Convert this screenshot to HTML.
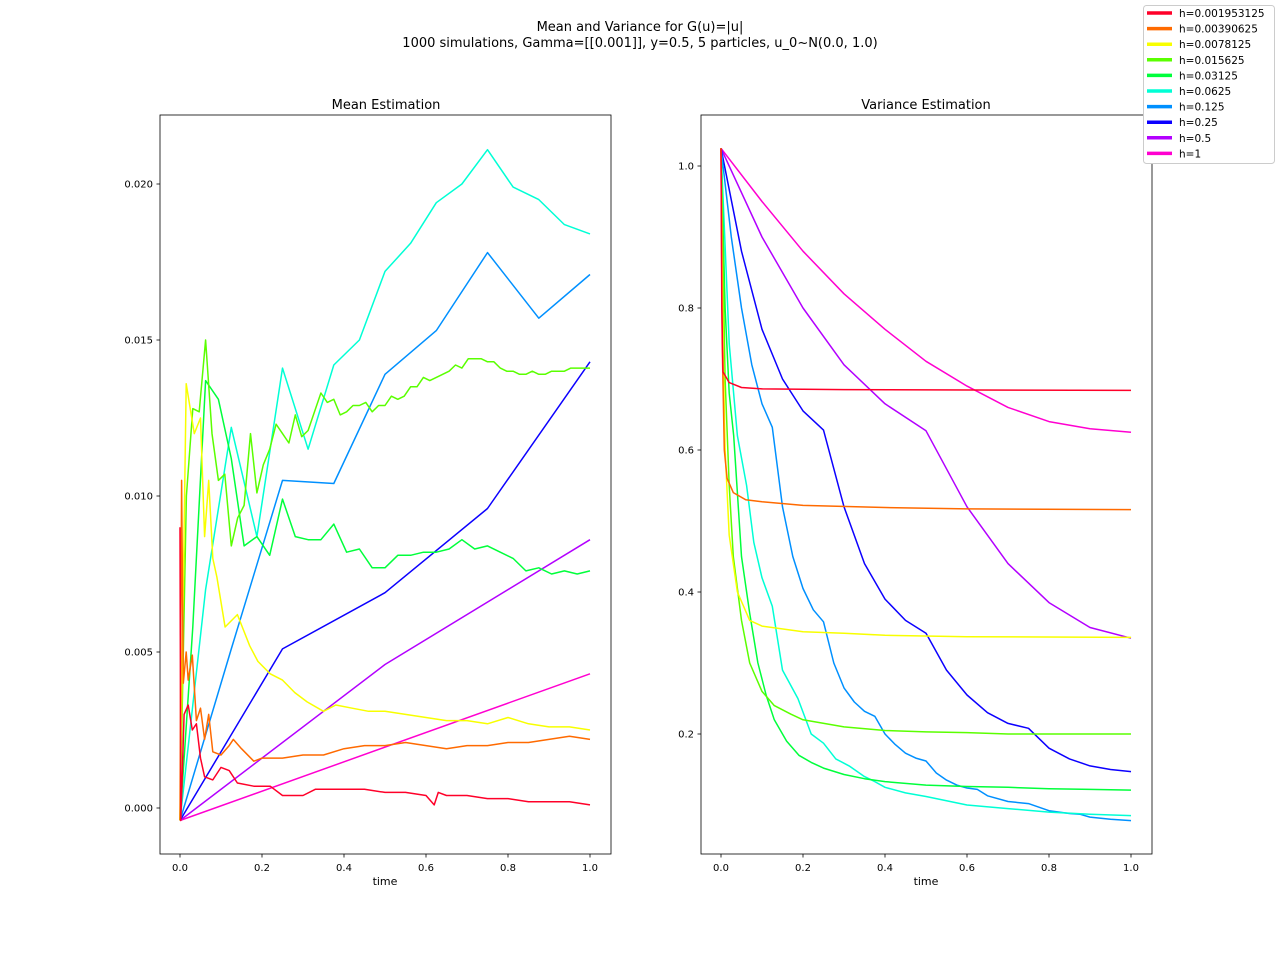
<!DOCTYPE html>
<html><head><meta charset="utf-8"><style>
body{margin:0;background:#fff;}
svg text{font-family:"DejaVu Sans","Liberation Sans",sans-serif;fill:#000;}
</style></head><body>
<svg id="fig" width="1280" height="960" xmlns="http://www.w3.org/2000/svg">
<text x="640" y="31" font-size="13" text-anchor="middle">Mean and Variance for G(u)=|u|</text>
<text x="640" y="47" font-size="13" text-anchor="middle">1000 simulations, Gamma=[[0.001]], y=0.5, 5 particles, u_0~N(0.0, 1.0)</text>
<text x="386" y="109" font-size="13" text-anchor="middle">Mean Estimation</text>
<text x="926" y="109" font-size="13" text-anchor="middle">Variance Estimation</text>
<text x="385" y="885" font-size="11" text-anchor="middle">time</text>
<text x="926" y="885" font-size="11" text-anchor="middle">time</text>
<g id="meanAx"></g>
<g id="varAx"></g>
<g id="legend"></g>
</svg>
<script>
const labels=["h=0.001953125","h=0.00390625","h=0.0078125","h=0.015625","h=0.03125","h=0.0625","h=0.125","h=0.25","h=0.5","h=1"];
const colors=["#ff0029","#ff6a00","#f8ff00","#5aff00","#00ff3b","#00ffd5","#0090ff","#0c00ff","#b300ff","#ff00d0"];
const meanTicksY=[0,0.005,0.010,0.015,0.020];
const varTicksY=[0.2,0.4,0.6,0.8,1.0];
const ticksX=[0,0.2,0.4,0.6,0.8,1.0];
// mean series: times / values
const mT0=[0,0.002,0.01,0.02,0.03,0.04,0.05,0.06,0.08,0.1,0.12,0.14,0.18,0.22,0.25,0.3,0.33,0.38,0.45,0.5,0.55,0.6,0.62,0.63,0.65,0.7,0.75,0.8,0.85,0.9,0.95,1.0];
const mV0=[0.0090,-0.0004,0.0030,0.0033,0.0025,0.0027,0.0016,0.0010,0.0009,0.0013,0.0012,0.0008,0.0007,0.0007,0.0004,0.0004,0.0006,0.0006,0.0006,0.0005,0.0005,0.0004,0.0001,0.0005,0.0004,0.0004,0.0003,0.0003,0.0002,0.0002,0.0002,0.0001];
const mT1=[0,0.004,0.008,0.015,0.02,0.03,0.04,0.05,0.06,0.07,0.08,0.1,0.12,0.13,0.15,0.18,0.2,0.25,0.3,0.35,0.4,0.45,0.5,0.55,0.6,0.65,0.7,0.75,0.8,0.85,0.9,0.95,1.0];
const mV1=[-0.0004,0.0105,0.0040,0.0050,0.0041,0.0049,0.0028,0.0032,0.0022,0.0030,0.0018,0.0017,0.0020,0.0022,0.0019,0.0015,0.0016,0.0016,0.0017,0.0017,0.0019,0.0020,0.0020,0.0021,0.0020,0.0019,0.0020,0.0020,0.0021,0.0021,0.0022,0.0023,0.0022];
const mT2=[0,0.015,0.035,0.05,0.06,0.07,0.08,0.09,0.11,0.14,0.17,0.19,0.22,0.25,0.28,0.31,0.35,0.38,0.42,0.46,0.5,0.55,0.6,0.65,0.7,0.75,0.8,0.85,0.9,0.95,1.0];
const mV2=[-0.0004,0.0136,0.0120,0.0125,0.0087,0.0105,0.0080,0.0074,0.0058,0.0062,0.0052,0.0047,0.0043,0.0041,0.0037,0.0034,0.0031,0.0033,0.0032,0.0031,0.0031,0.0030,0.0029,0.0028,0.0028,0.0027,0.0029,0.0027,0.0026,0.0026,0.0025];
const mV3=[-0.0004,0.0100,0.0128,0.0127,0.0150,0.0120,0.0105,0.0107,0.0084,0.0093,0.0097,0.0120,0.0101,0.0110,0.0115,0.0123,0.0120,0.0117,0.0126,0.0119,0.0121,0.0127,0.0133,0.0130,0.0131,0.0126,0.0127,0.0129,0.0129,0.0130,0.0127,0.0129,0.0129,0.0132,0.0131,0.0132,0.0135,0.0135,0.0138,0.0137,0.0138,0.0139,0.0140,0.0142,0.0141,0.0144,0.0144,0.0144,0.0143,0.0143,0.0141,0.0140,0.0140,0.0139,0.0139,0.0140,0.0139,0.0139,0.0140,0.0140,0.0140,0.0141,0.0141,0.0141,0.0141];
const mV4=[-0.0004,0.0058,0.0137,0.0131,0.0112,0.0084,0.0087,0.0081,0.0099,0.0087,0.0086,0.0086,0.0091,0.0082,0.0083,0.0077,0.0077,0.0081,0.0081,0.0082,0.0082,0.0083,0.0086,0.0083,0.0084,0.0082,0.0080,0.0076,0.0077,0.0075,0.0076,0.0075,0.0076];
const mV5=[-0.0004,0.0070,0.0122,0.0087,0.0141,0.0115,0.0142,0.0150,0.0172,0.0181,0.0194,0.0200,0.0211,0.0199,0.0195,0.0187,0.0184];
const mV6=[-0.0004,0.0051,0.0105,0.0104,0.0139,0.0153,0.0178,0.0157,0.0171];
const mV7=[-0.0004,0.0051,0.0069,0.0096,0.0143];
const mV8=[-0.0004,0.0046,0.0086];
const mV9=[-0.0004,0.0043];
// variance series
const vT0=[0,0.002,0.005,0.02,0.05,0.1,0.3,1.0];
const vV0=[1.025,0.80,0.71,0.695,0.688,0.686,0.685,0.684];
const vT1=[0,0.003,0.008,0.015,0.03,0.06,0.1,0.2,0.4,0.6,1.0];
const vV1=[1.025,0.75,0.60,0.56,0.54,0.53,0.527,0.522,0.519,0.517,0.516];
const vT2=[0,0.005,0.01,0.02,0.04,0.07,0.1,0.2,0.3,0.4,0.6,1.0];
const vV2=[1.025,0.75,0.60,0.48,0.40,0.36,0.352,0.344,0.342,0.339,0.337,0.336];
const vT3=[0,0.01,0.02,0.03,0.05,0.07,0.1,0.13,0.17,0.2,0.3,0.4,0.5,0.6,0.7,0.8,1.0];
const vV3=[1.025,0.70,0.55,0.45,0.36,0.30,0.26,0.24,0.228,0.22,0.21,0.205,0.203,0.202,0.2,0.2,0.2];
const vT4=[0,0.01,0.02,0.031,0.05,0.07,0.09,0.11,0.13,0.16,0.19,0.22,0.25,0.3,0.35,0.4,0.5,0.6,0.7,0.8,0.9,1.0];
const vV4=[1.025,0.80,0.68,0.62,0.45,0.37,0.30,0.255,0.22,0.19,0.17,0.16,0.152,0.143,0.137,0.133,0.128,0.126,0.125,0.123,0.122,0.121];
const vT5=[0,0.02,0.04,0.0625,0.08,0.1,0.125,0.15,0.1875,0.22,0.25,0.28,0.3125,0.35,0.375,0.4,0.45,0.5,0.6,0.7,0.8,0.9,1.0];
const vV5=[1.025,0.75,0.62,0.55,0.47,0.42,0.38,0.29,0.25,0.20,0.187,0.165,0.155,0.14,0.133,0.125,0.117,0.112,0.10,0.095,0.09,0.087,0.085];
const vT6=[0,0.025,0.05,0.075,0.1,0.125,0.15,0.175,0.2,0.225,0.25,0.275,0.3,0.325,0.35,0.375,0.4,0.425,0.45,0.475,0.5,0.525,0.55,0.575,0.6,0.625,0.65,0.7,0.75,0.8,0.85,0.875,0.9,0.95,1.0];
const vV6=[1.025,0.90,0.80,0.72,0.665,0.632,0.52,0.45,0.405,0.375,0.358,0.30,0.265,0.245,0.232,0.225,0.20,0.185,0.173,0.166,0.162,0.145,0.135,0.128,0.124,0.122,0.113,0.105,0.102,0.092,0.088,0.087,0.083,0.08,0.078];
const vT7=[0,0.05,0.1,0.15,0.2,0.25,0.3,0.35,0.4,0.45,0.5,0.55,0.6,0.65,0.7,0.75,0.8,0.85,0.9,0.95,1.0];
const vV7=[1.025,0.88,0.77,0.70,0.655,0.628,0.52,0.44,0.39,0.36,0.342,0.29,0.255,0.23,0.215,0.208,0.18,0.165,0.155,0.15,0.147];
const vT8=[0,0.1,0.2,0.3,0.4,0.5,0.6,0.7,0.8,0.9,1.0];
const vV8=[1.025,0.90,0.80,0.72,0.665,0.627,0.52,0.44,0.385,0.35,0.335];
const vT9=[0,0.1,0.2,0.3,0.4,0.5,0.6,0.7,0.8,0.9,1.0];
const vV9=[1.025,0.95,0.88,0.82,0.77,0.725,0.69,0.66,0.64,0.63,0.625];

const NS="http://www.w3.org/2000/svg";
function mk(tag,attrs,parent){const e=document.createElementNS(NS,tag);for(const k in attrs)e.setAttribute(k,attrs[k]);parent.appendChild(e);return e;}
function uniform(n){const a=[];for(let i=0;i<n;i++)a.push(i/(n-1));return a;}
const meanT=[mT0,mT1,mT2,uniform(mV3.length),uniform(mV4.length),uniform(mV5.length),uniform(mV6.length),uniform(mV7.length),uniform(mV8.length),uniform(mV9.length)];
const meanV=[mV0,mV1,mV2,mV3,mV4,mV5,mV6,mV7,mV8,mV9];
const varT=[vT0,vT1,vT2,vT3,vT4,vT5,vT6,vT7,vT8,vT9];
const varV=[vV0,vV1,vV2,vV3,vV4,vV5,vV6,vV7,vV8,vV9];

function drawAxes(g,box,xf,yf,yt,fmt,Ts,Vs,prefix){
  for(let i=Ts.length-1;i>=0;i--){
    const d=Ts[i].map((t,j)=>(j?"L":"M")+xf(t).toFixed(1)+","+yf(Vs[i][j]).toFixed(1)).join("");
    const p=mk("path",{d:d,fill:"none",stroke:colors[i],"stroke-width":1.5,"stroke-linejoin":"round"},g);
    
    
  }
  const r=mk("rect",{x:box[0],y:box[1],width:box[2]-box[0],height:box[3]-box[1],fill:"none",stroke:"#000","stroke-width":0.8},g);
  
  
  ticksX.forEach(t=>{const x=xf(t);mk("line",{x1:x,x2:x,y1:box[3],y2:box[3]+3.5,stroke:"#000","stroke-width":0.8},g);
    const tx=mk("text",{x:x,y:box[3]+17,"font-size":10,"text-anchor":"middle"},g);tx.textContent=t.toFixed(1);
    
    });
  yt.forEach(v=>{const y=yf(v);mk("line",{x1:box[0],x2:box[0]-3.5,y1:y,y2:y,stroke:"#000","stroke-width":0.8},g);
    const tx=mk("text",{x:box[0]-7,y:y+3.5,"font-size":10,"text-anchor":"end"},g);tx.textContent=fmt(v);
    
    });
}
drawAxes(document.getElementById("meanAx"),[160,115,611,854],t=>180+410*t,v=>808-31200*v,meanTicksY,v=>v.toFixed(3),meanT,meanV,"mean");
drawAxes(document.getElementById("varAx"),[701,115,1152,854],t=>721+410*t,v=>166+(1-v)*710,varTicksY,v=>v.toFixed(1),varT,varV,"variance");

const lg=document.getElementById("legend");
mk("rect",{x:1143.5,y:5.5,width:131,height:158,fill:"#fff",stroke:"#ccc",rx:3},lg);
labels.forEach((l,i)=>{const y=13+i*15.6;
  const ln=mk("line",{x1:1147,x2:1172,y1:y,y2:y,stroke:colors[i],"stroke-width":3.5},lg);
  
  
  const t=mk("text",{x:1179,y:y+4,"font-size":10.5},lg);t.textContent=l;
  
  });
</script>
</body></html>
